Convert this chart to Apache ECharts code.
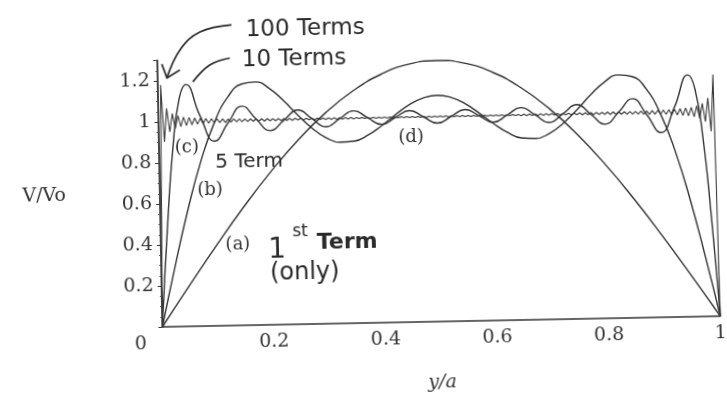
<!DOCTYPE html>
<html>
<head>
<meta charset="utf-8">
<script src="https://cdn.jsdelivr.net/npm/echarts@6/dist/echarts.min.js"></script>
<style>
  html, body { margin: 0; padding: 0; background: #fff; overflow: hidden; }
  #chart {
    position: absolute; left: 0; top: 0;
    width: 727px; height: 398px;
    transform: rotate(-1.1deg); transform-origin: 50% 50%;
    background: #fff;
  }
</style>
</head>
<body>
<div id="chart"></div>
<script>
// Partial sums of the Fourier series for V/Vo across the slot, plotted against y/a.

// (a) first term only, sampled every 0.05
const ONE_TERM_STEP = 0.05;
const ONE_TERM = [0, 0.199, 0.393, 0.578, 0.748, 0.900, 1.030, 1.134, 1.211, 1.258, 1.273,
  1.258, 1.211, 1.134, 1.030, 0.900, 0.748, 0.578, 0.393, 0.199, 0];

// (b) five terms, sampled every 0.025
const FIVE_TERM_STEP = 0.025;
const FIVE_TERMS = [0, 0.296, 0.572, 0.808, 0.991, 1.115, 1.177, 1.186, 1.152, 1.091, 1.020,
  0.955, 0.907, 0.884, 0.888, 0.916, 0.961, 1.013, 1.060, 1.092, 1.104,
  1.092, 1.060, 1.013, 0.961, 0.916, 0.888, 0.884, 0.907, 0.955, 1.020,
  1.091, 1.152, 1.186, 1.177, 1.115, 0.991, 0.808, 0.572, 0.296, 0];

// (c) ten terms
const TEN_TERM_X = [0, 0.0125, 0.025, 0.0375, 0.05, 0.075, 0.1, 0.125, 0.15, 0.175, 0.2,
  0.225, 0.25, 0.275, 0.3, 0.325, 0.35, 0.375, 0.4, 0.425, 0.45, 0.475, 0.5,
  0.525, 0.55, 0.575, 0.6, 0.625, 0.65, 0.675, 0.7, 0.725, 0.75, 0.775, 0.8,
  0.825, 0.85, 0.875, 0.9, 0.925, 0.95, 0.9625, 0.975, 0.9875, 1];
const TEN_TERMS = [0, 0.484, 0.873, 1.108, 1.180, 1.024, 0.901, 0.990, 1.069, 1.005, 0.947,
  0.997, 1.045, 1.002, 0.961, 0.999, 1.036, 1.001, 0.967, 1.000, 1.032, 1.000, 0.968,
  1.000, 1.032, 1.000, 0.967, 1.001, 1.036, 0.999, 0.961, 1.002, 1.045, 0.997, 0.947,
  1.005, 1.069, 0.990, 0.901, 1.024, 1.180, 1.108, 0.873, 0.484, 0];

// (d) one hundred terms, at its ripple extrema every 0.005
const HUNDRED_TERM_STEP = 0.005;
const HUNDRED_TERMS = [
  0, 1.179, 0.903, 1.066, 0.950, 1.040, 0.966, 1.029, 0.975, 1.021,
  0.980, 1.019, 0.983, 1.016, 0.985, 1.014, 0.987, 1.012, 0.989, 1.011,
  0.990, 1.010, 0.991, 1.009, 0.991, 1.008, 0.992, 1.008, 0.993, 1.007,
  0.993, 1.007, 0.993, 1.006, 0.994, 1.006, 0.994, 1.006, 0.994, 1.006,
  0.995, 1.005, 0.995, 1.005, 0.995, 1.005, 0.995, 1.005, 0.995, 1.005,
  0.996, 1.004, 0.996, 1.004, 0.996, 1.004, 0.996, 1.004, 0.996, 1.004,
  0.996, 1.004, 0.996, 1.004, 0.996, 1.004, 0.996, 1.004, 0.996, 1.004,
  0.996, 1.003, 0.997, 1.003, 0.997, 1.003, 0.997, 1.003, 0.997, 1.003,
  0.997, 1.003, 0.997, 1.003, 0.997, 1.003, 0.997, 1.003, 0.997, 1.003,
  0.997, 1.003, 0.997, 1.003, 0.997, 1.003, 0.997, 1.003, 0.997, 1.003,
  0.997,
  1.003, 0.997, 1.003, 0.997, 1.003, 0.997, 1.003, 0.997, 1.003, 0.997,
  1.003, 0.997, 1.003, 0.997, 1.003, 0.997, 1.003, 0.997, 1.003, 0.997,
  1.003, 0.997, 1.003, 0.997, 1.003, 0.997, 1.003, 0.997, 1.003, 0.996,
  1.004, 0.996, 1.004, 0.996, 1.004, 0.996, 1.004, 0.996, 1.004, 0.996,
  1.004, 0.996, 1.004, 0.996, 1.004, 0.996, 1.004, 0.996, 1.004, 0.996,
  1.005, 0.995, 1.005, 0.995, 1.005, 0.995, 1.005, 0.995, 1.005, 0.995,
  1.006, 0.994, 1.006, 0.994, 1.006, 0.994, 1.006, 0.993, 1.007, 0.993,
  1.007, 0.993, 1.008, 0.992, 1.008, 0.991, 1.009, 0.991, 1.010, 0.990,
  1.011, 0.989, 1.012, 0.987, 1.014, 0.985, 1.016, 0.983, 1.019, 0.980,
  1.021, 0.975, 1.029, 0.966, 1.040, 0.950, 1.066, 0.903, 1.179, 0
];

// Axis ticks
const X_TICKS = [0, 0.2, 0.4, 0.6, 0.8, 1];
const Y_TICKS = [0.2, 0.4, 0.6, 0.8, 1, 1.2];

const INK = '#333';
const PRINT_FONT = 'DejaVu Serif';
const HAND_FONT = 'DejaVu Sans';

function evenly(values, step) {
  return values.map((v, i) => [+(i * step).toFixed(4), v]);
}
function paired(xs, ys) {
  return xs.map((x, i) => [x, ys[i]]);
}

const chart = echarts.init(document.getElementById('chart'), null, { renderer: 'canvas' });

const curveStyle = { color: INK, width: 1.4 };

chart.setOption({
  animation: false,
  backgroundColor: '#fff',
  grid: { left: 160, right: 9, top: 56.5, bottom: 75, containLabel: false, outerBoundsMode: 'none' },
  xAxis: {
    type: 'value', min: 0, max: 1, interval: 0.2,
    name: 'y/a', nameLocation: 'middle', nameGap: 52,
    nameTextStyle: { fontFamily: PRINT_FONT, fontStyle: 'italic', fontSize: 19, color: INK },
    axisLine: { show: true, lineStyle: { color: INK, width: 1.6 } },
    axisTick: { show: false },
    splitLine: { show: false },
    axisLabel: {
      fontFamily: PRINT_FONT, fontSize: 19, color: INK, margin: 8,
      showMinLabel: true, showMaxLabel: true,
      formatter: v => {
        const t = X_TICKS.find(k => Math.abs(k - v) < 1e-6);
        if (t === undefined) return '';
        return t === 0 ? '{o|0}' : String(t);
      },
      rich: { o: { fontFamily: PRINT_FONT, fontSize: 19, color: INK, padding: [0, 44, 0, 0] } }
    }
  },
  yAxis: {
    type: 'value', min: 0, max: 1.3, interval: 0.2,
    name: 'V/Vo', nameLocation: 'middle', nameRotate: 0, nameGap: 94,
    nameTextStyle: { fontFamily: PRINT_FONT, fontSize: 19, color: INK, padding: [6, 0, 0, 0] },
    axisLine: { show: true, lineStyle: { color: INK, width: 1.8 } },
    axisTick: { show: true, length: 4, lineStyle: { color: INK, width: 1 } },
    minorTick: { show: true, splitNumber: 4, length: 2, lineStyle: { color: '#555', width: 1 } },
    splitLine: { show: false },
    axisLabel: {
      fontFamily: PRINT_FONT, fontSize: 19, color: INK, margin: 8,
      showMaxLabel: false,
      formatter: v => {
        const t = Y_TICKS.find(k => Math.abs(k - v) < 1e-6);
        return t === undefined ? '' : String(t);
      }
    }
  },
  series: [
    { name: '1st Term', type: 'line', data: evenly(ONE_TERM, ONE_TERM_STEP), smooth: true,
      showSymbol: false, symbol: 'none', lineStyle: curveStyle, z: 3 },
    { name: '5 Terms', type: 'line', data: evenly(FIVE_TERMS, FIVE_TERM_STEP), smooth: true,
      showSymbol: false, symbol: 'none', lineStyle: curveStyle, z: 3 },
    { name: '10 Terms', type: 'line', data: paired(TEN_TERM_X, TEN_TERMS), smooth: true,
      showSymbol: false, symbol: 'none', lineStyle: curveStyle, z: 3 },
    { name: '100 Terms', type: 'line', data: evenly(HUNDRED_TERMS, HUNDRED_TERM_STEP), smooth: false,
      showSymbol: false, symbol: 'none', lineStyle: { color: '#3a3a3a', width: 1.1 }, z: 4 }
  ]
});

// Curve labels and hand-written notes, placed in data coordinates
const px = p => chart.convertToPixel({ gridIndex: 0 }, p);

const PRINTED_LABELS = [
  { text: '(a)', at: [0.138, 0.392] },
  { text: '(b)', at: [0.090, 0.663] },
  { text: '(c)', at: [0.050, 0.870] },
  { text: '(d)', at: [0.452, 0.900] }
];
const HAND_NOTES = [
  { text: '100 Terms', at: [0.266, 1.440], size: 23 },
  { text: '10 Terms', at: [0.245, 1.292], size: 23 },
  { text: '5 Term', at: [0.161, 0.796], size: 20 },
  { text: '1', at: [0.208, 0.364], size: 28 },
  { text: 'st', at: [0.250, 0.452], size: 17 },
  { text: 'Term', at: [0.334, 0.392], size: 22, weight: 'bold' },
  { text: '(only)', at: [0.257, 0.249], size: 24 }
];
const ARROW_100 = [[0.134, 1.466], [0.077, 1.434], [0.041, 1.349], [0.0167, 1.214]];
const ARROW_100_HEAD = [[0.008, 1.282], [0.0167, 1.214], [0.040, 1.251]];
const POINTER_10 = [[0.130, 1.305], [0.094, 1.273], [0.063, 1.192]];

const graphics = [];
PRINTED_LABELS.forEach(l => {
  const [x, y] = px(l.at);
  graphics.push({ type: 'text', x, y, z: 10, style: {
    text: l.text, fontFamily: PRINT_FONT, fontSize: 18, fill: INK,
    align: 'center', verticalAlign: 'middle' } });
});
HAND_NOTES.forEach(l => {
  const [x, y] = px(l.at);
  graphics.push({ type: 'text', x, y, z: 10, style: {
    text: l.text, fontFamily: HAND_FONT, fontSize: l.size, fontWeight: l.weight || 'normal',
    fill: '#2a2a2a', align: 'center', verticalAlign: 'middle' } });
});
[ARROW_100, ARROW_100_HEAD, POINTER_10].forEach((pts, i) => {
  graphics.push({ type: 'polyline', z: 10, shape: { points: pts.map(px), smooth: i === 1 ? 0 : 0.4 },
    style: { stroke: '#2a2a2a', lineWidth: 1.7, fill: null } });
});
chart.setOption({ graphic: graphics });
</script>
</body>
</html>
